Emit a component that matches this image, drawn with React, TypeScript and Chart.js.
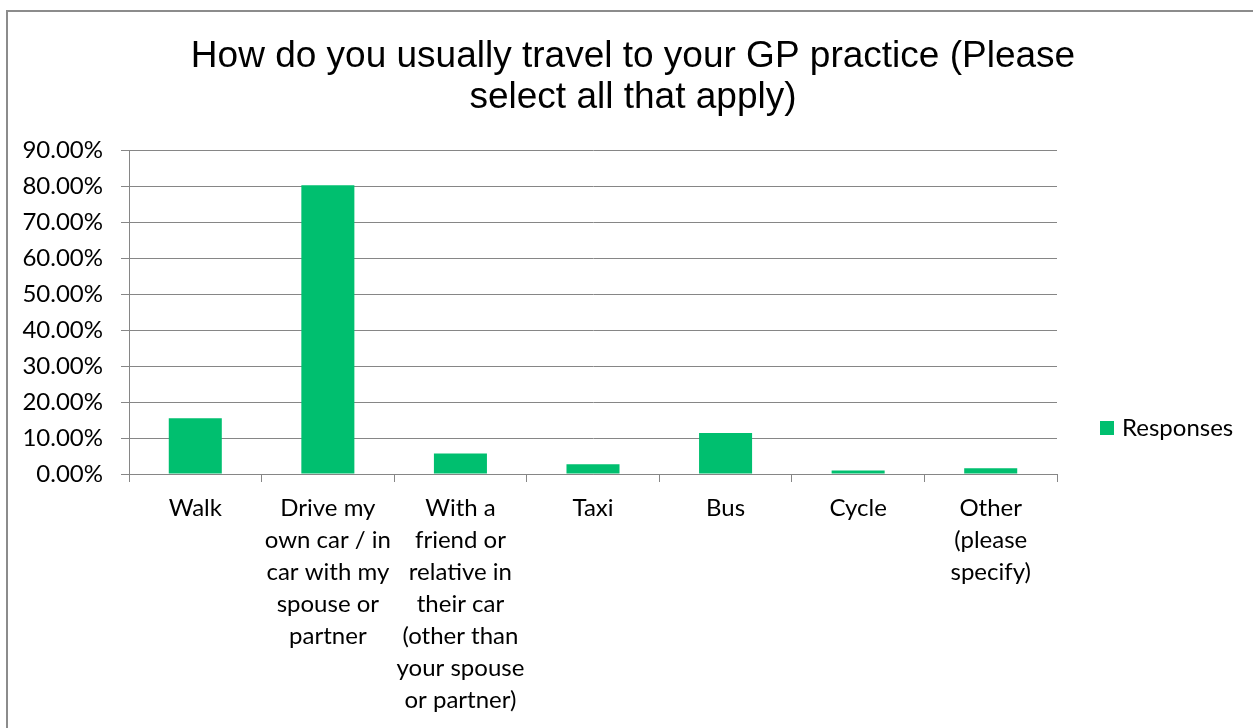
import React, { useEffect, useRef } from "react";
import { Chart, registerables } from "chart.js";

Chart.register(...registerables);

const categories: (string | string[])[] = [
  "Walk",
  ["Drive my", "own car / in", "car with my", "spouse or", "partner"],
  ["With a", "friend or", "relative in", "their car", "(other than", "your spouse", "or partner)"],
  "Taxi",
  "Bus",
  "Cycle",
  ["Other", "(please", "specify)"],
];
const responses = [15.5, 80.2, 5.7, 2.7, 11.4, 1.0, 1.6];
const seriesLabel = "Responses";
const titleLines = ["How do you usually travel to your GP practice (Please", "select all that apply)"];
const yMin = 0;
const yMax = 90;
const yStep = 10;

const BAR_COLOR = "#00BF6F";
const GRID_COLOR = "#868686";
const LABEL_FONT = "Lato";
const LABEL_SIZE = 24;

export default function App() {
  const canvasRef = useRef<HTMLCanvasElement | null>(null);

  useEffect(() => {
    const canvas = canvasRef.current;
    if (!canvas) return;

    const decorPlugin = {
      id: "decor",
      afterDraw(chart: any) {
        const ctx = chart.ctx;
        ctx.save();
        // Title
        ctx.fillStyle = "#000";
        ctx.font = '37px "Liberation Sans", Arial, sans-serif';
        ctx.textAlign = "center";
        ctx.textBaseline = "alphabetic";
        ctx.fillText(titleLines[0], 633, 67);
        ctx.fillText(titleLines[1], 633, 108);
        // Legend
        const ds = chart.data.datasets[0];
        const area = chart.chartArea;
        const lx = area.right + 43;
        const ly = (area.top + area.bottom) / 2 + 116;
        ctx.fillStyle = ds.backgroundColor;
        ctx.fillRect(lx, ly - 7, 14, 14);
        ctx.fillStyle = "#000";
        ctx.font = `${LABEL_SIZE}px "${LABEL_FONT}", sans-serif`;
        ctx.textAlign = "left";
        ctx.textBaseline = "middle";
        ctx.fillText(ds.label, lx + 22, ly);
        ctx.restore();
      },
    };

    const chart = new Chart(canvas, {
      type: "bar",
      data: {
        labels: categories,
        datasets: [
          {
            label: seriesLabel,
            data: responses,
            backgroundColor: BAR_COLOR,
            borderWidth: 0,
            categoryPercentage: 1,
            barPercentage: 0.4,
          },
        ],
      },
      options: {
        responsive: false,
        animation: false,
        devicePixelRatio: 1,
        layout: { padding: { top: 150, right: 196, bottom: 0, left: 0 } },
        plugins: {
          legend: { display: false },
          title: { display: false },
          tooltip: { enabled: false },
        },
        scales: {
          x: {
            offset: true,
            grid: {
              offset: true,
              drawOnChartArea: false,
              drawTicks: true,
              tickLength: 8,
              color: GRID_COLOR,
              lineWidth: 1,
            },
            border: { display: true, color: GRID_COLOR, width: 1 },
            ticks: {
              autoSkip: false,
              maxRotation: 0,
              minRotation: 0,
              padding: 10,
              color: "#000",
              font: { family: LABEL_FONT, size: LABEL_SIZE, lineHeight: "32px" as any },
            },
            afterFit(scale: any) {
              scale.height = 254;
            },
          },
          y: {
            min: yMin,
            max: yMax,
            ticks: {
              stepSize: yStep,
              padding: 18,
              color: "#000",
              font: { family: LABEL_FONT, size: LABEL_SIZE },
              callback: (v: any) => Number(v).toFixed(2) + "%",
            },
            grid: {
              color: GRID_COLOR,
              lineWidth: 1,
              drawTicks: true,
              tickLength: 8,
            },
            border: { display: true, color: GRID_COLOR, width: 1 },
            afterFit(scale: any) {
              scale.width = 129;
            },
          },
        },
      },
      plugins: [decorPlugin],
    });

    return () => chart.destroy();
  }, []);

  return (
    <div
      style={{
        position: "absolute",
        left: 0,
        top: 0,
        width: 1253,
        height: 728,
        overflow: "hidden",
        background: "#fff",
      }}
    >
      <div
        style={{
          position: "absolute",
          left: 6,
          top: 10,
          width: 1300,
          height: 800,
          borderTop: "2px solid #8c8c8c",
          borderLeft: "2px solid #8c8c8c",
        }}
      />
      <canvas
        ref={canvasRef}
        width={1253}
        height={728}
        style={{ position: "absolute", left: 0, top: 0, width: 1253, height: 728 }}
      />
    </div>
  );
}
